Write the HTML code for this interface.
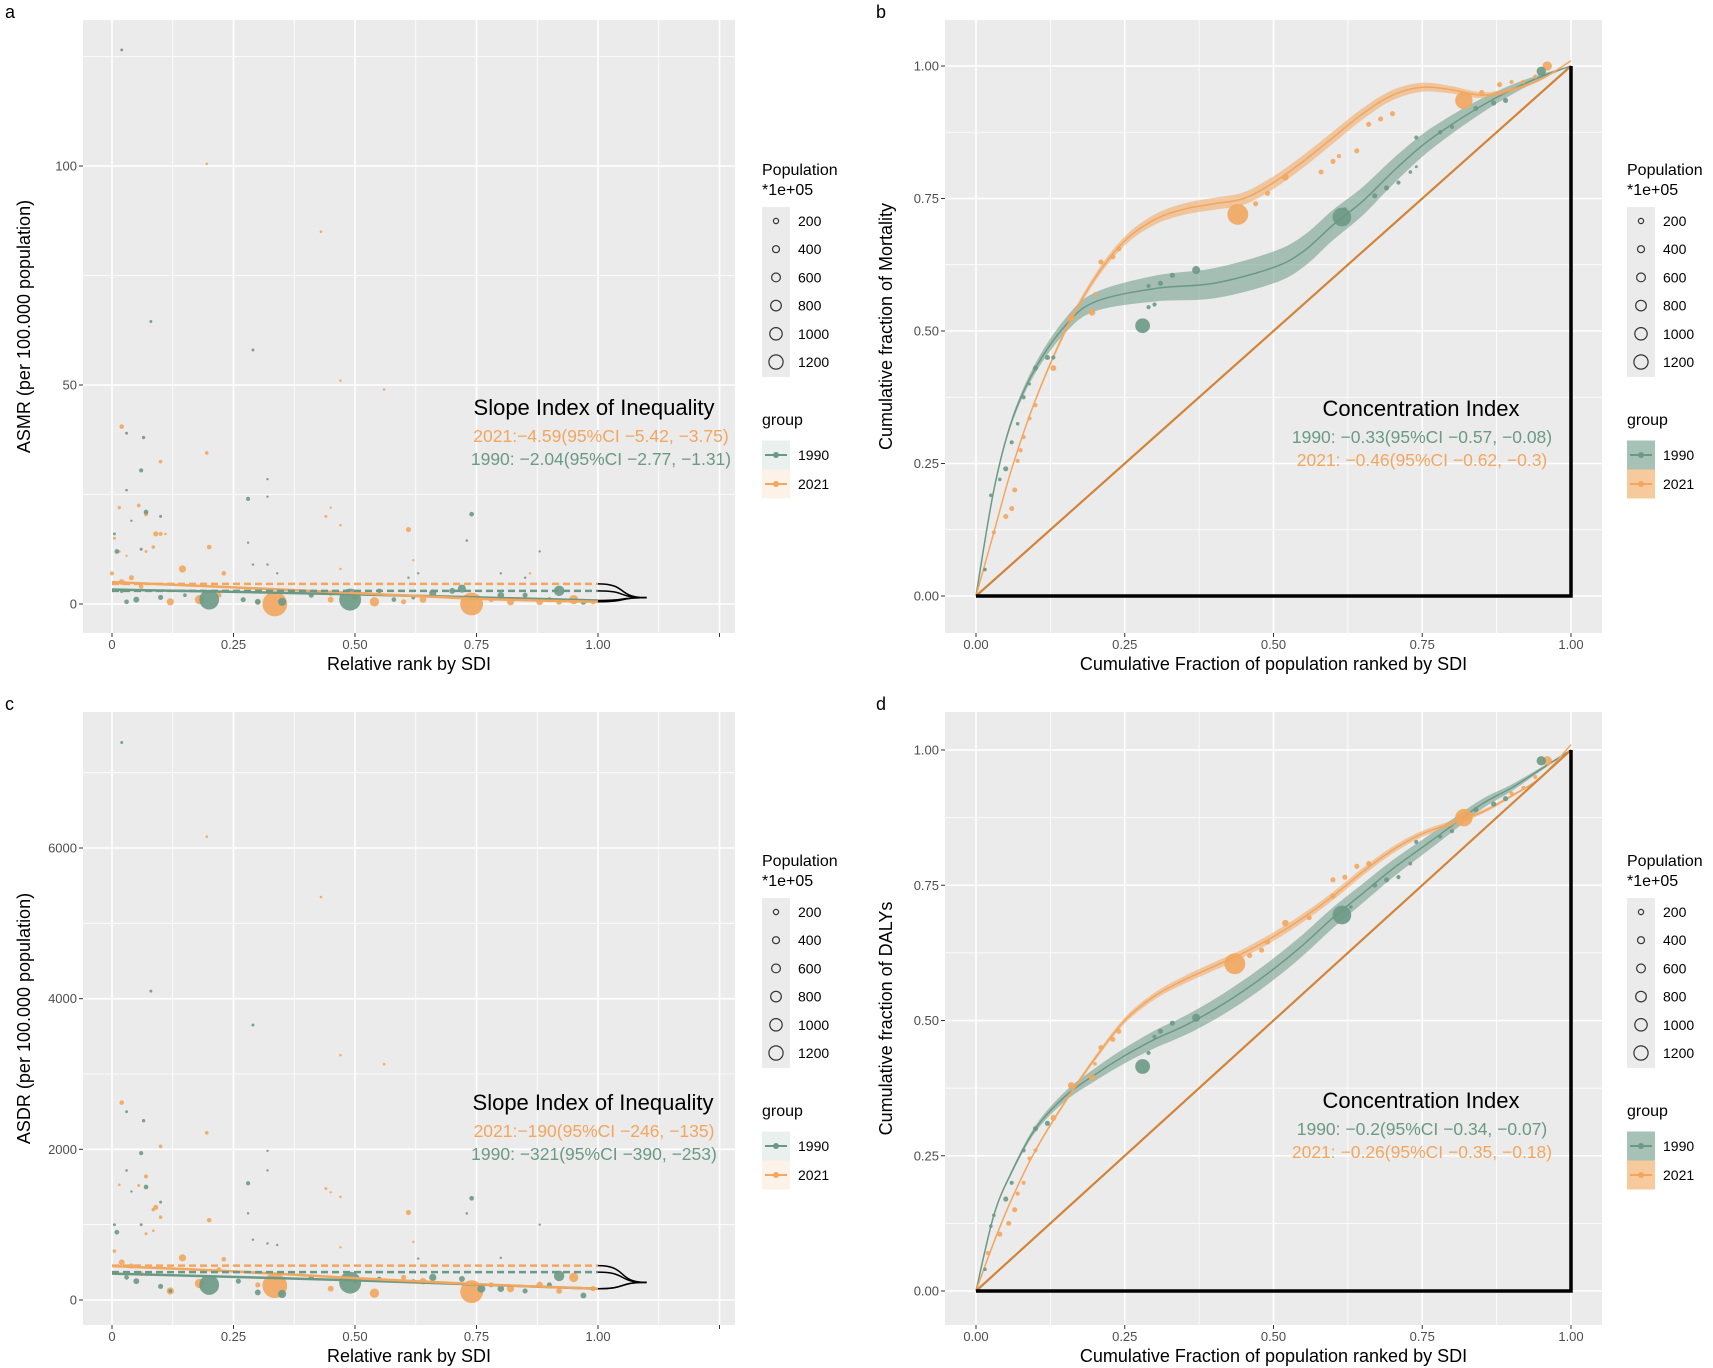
<!DOCTYPE html>
<html><head><meta charset="utf-8"><style>
body{margin:0;background:#fff}
svg{display:block;font-family:"Liberation Sans",Arial,sans-serif}
</style></head><body>
<svg id="fig" width="1713" height="1368" viewBox="0 0 1713 1368" xmlns="http://www.w3.org/2000/svg"></svg>
<script>
// ---------- Panel a data (ASMR) ----------
const a1990 = [[0.02,126.5,20],[0.08,64.5,20],[0.29,58,20],[0.03,39,20],[0.065,38,25],[0.06,30.5,40],[0.03,26,15],[0.32,28.5,10],[0.28,24,40],[0.32,24.5,10],[0.07,21,50],[0.1,20,20],[0.74,20.5,50],[0.005,16,20],[0.04,19,10],[0.01,12,50],[0.06,12.5,20],[0.28,14,10],[0.73,14.5,15],[0.88,12,8],[0.29,9,10],[0.32,9,10],[0.34,7,8],[0.63,7,8],[0.61,6,8],[0.8,7,10],[0.85,6,8],
[0.2,1,900],[0.49,1,1100],[0.92,3,250],[0.72,3.5,150],[0.05,1,80],[0.1,1.5,60],[0.03,0.5,50],[0.27,1,60],[0.3,0.5,80],[0.35,0.5,150],[0.58,1,50],[0.66,2.5,120],[0.7,3,80],[0.8,2,100],[0.85,2,60],[0.9,1,60],[0.97,0.5,80],[0.41,2,60],[0.45,2.5,60],[0.62,1.5,40],[0.02,3,40],[0.15,2,30],[0.55,3,50]];
const a2021 = [[0.195,100.5,15],[0.43,85,15],[0.47,51,15],[0.56,49,15],[0.02,40.5,50],[0.195,34.5,30],[0.1,32.5,30],[0.015,22,25],[0.055,22.5,30],[0.07,20.5,40],[0.44,20,20],[0.45,22,10],[0.47,18,15],[0.09,16,60],[0.1,16,40],[0.61,17,60],[0.085,13,30],[0.2,13,50],[0.005,15,20],[0.015,12,15],[0.11,16,15],[0.07,12,20],[0.03,11,10],[0.62,10,10],[0.145,8,120],[0.23,7,50],[0.47,8,8],[0.86,7,8],
[0.335,0,1400],[0.74,0,1200],[0.54,0.5,200],[0.18,1,200],[0.12,0.5,120],[0.0,7,40],[0.02,5,80],[0.04,6,60],[0.22,2,60],[0.45,1,80],[0.6,0.5,60],[0.64,1,100],[0.82,0.5,120],[0.88,0.5,100],[0.95,1,200],[0.99,0.5,60],[0.06,4,50],[0.3,0.5,60],[0.5,1.5,60],[0.78,1,60],[0.92,0.5,80]];
const aDash = [3.0, 4.6];
const aFit1990 = [[0,3.3],[0.5,2.2],[1,0.8]];
const aFit2021 = [[0,5.0],[0.25,3.8],[0.5,2.5],[0.75,1.2],[1,0.5]];
const aYTicks = [0,50,100];
// ---------- Panel c data (ASDR) ----------
const c1990 = [[0.02,7400,20],[0.08,4100,20],[0.29,3650,20],[0.03,2500,20],[0.065,2380,25],[0.06,1950,40],[0.32,1980,10],[0.03,1720,15],[0.32,1720,10],[0.28,1550,40],[0.07,1500,50],[0.04,1440,10],[0.1,1300,20],[0.74,1350,50],[0.73,1150,15],[0.28,1150,10],[0.005,1000,20],[0.01,900,50],[0.06,1000,20],[0.88,1000,8],[0.29,800,10],[0.32,750,10],[0.34,730,8],[0.8,560,10],[0.63,550,8],
[0.2,200,900],[0.49,230,1100],[0.92,320,250],[0.35,80,150],[0.3,100,80],[0.05,250,80],[0.1,180,60],[0.03,300,50],[0.66,300,120],[0.72,280,80],[0.76,150,150],[0.8,150,100],[0.85,120,60],[0.9,200,60],[0.97,60,80],[0.41,300,60],[0.62,250,40],[0.12,120,30],[0.55,280,50],[0.26,250,60]];
const c2021 = [[0.195,6150,15],[0.43,5350,15],[0.47,3250,15],[0.56,3130,15],[0.02,2620,50],[0.195,2220,30],[0.1,2040,30],[0.07,1640,40],[0.015,1530,15],[0.055,1520,20],[0.44,1480,20],[0.45,1430,10],[0.47,1370,15],[0.09,1230,60],[0.085,1200,30],[0.61,1160,60],[0.2,1060,50],[0.1,1100,30],[0.07,880,20],[0.085,920,15],[0.62,770,10],[0.145,560,120],[0.47,700,8],[0.005,650,30],[0.23,540,50],
[0.335,190,1400],[0.74,110,1200],[0.54,90,200],[0.18,220,200],[0.12,120,120],[0.02,500,80],[0.04,450,60],[0.22,400,60],[0.45,150,80],[0.6,300,60],[0.64,250,100],[0.82,150,120],[0.88,200,100],[0.95,300,200],[0.99,150,60],[0.3,200,60],[0.5,250,60],[0.78,200,60],[0.92,120,80],[0.06,350,50]];
const cDash = [370, 456];
const cFit1990 = [[0,350],[0.5,260],[1,150]];
const cFit2021 = [[0,450],[0.25,380],[0.5,290],[0.75,210],[1,150]];
const cYTicks = [0,2000,4000,6000];
// ---------- Panel b data (Mortality concentration) ----------
const bCurve1990 = [[0,0],[0.03,0.2],[0.06,0.33],[0.1,0.43],[0.15,0.51],[0.2,0.555],[0.3,0.58],[0.4,0.59],[0.5,0.62],[0.55,0.65],[0.6,0.7],[0.65,0.745],[0.7,0.8],[0.75,0.85],[0.8,0.89],[0.85,0.925],[0.9,0.955],[0.95,0.98],[1,1]];
const bCurve2021 = [[0,0],[0.03,0.12],[0.06,0.24],[0.1,0.37],[0.15,0.5],[0.2,0.6],[0.25,0.67],[0.3,0.71],[0.35,0.73],[0.4,0.74],[0.45,0.75],[0.5,0.78],[0.55,0.82],[0.6,0.865],[0.65,0.91],[0.7,0.945],[0.75,0.96],[0.8,0.955],[0.85,0.945],[0.9,0.955],[0.95,0.975],[1,1.01]];
const bPts1990 = [[0.28,0.51,500],[0.615,0.715,800],[0.37,0.615,150],[0.33,0.605,60],[0.31,0.59,60],[0.29,0.585,40],[0.3,0.55,40],[0.29,0.545,40],[0.95,0.99,200],[0.05,0.24,60],[0.04,0.22,30],[0.025,0.19,30],[0.06,0.29,40],[0.08,0.375,40],[0.1,0.43,60],[0.12,0.45,60],[0.13,0.45,40],[0.67,0.755,60],[0.69,0.77,60],[0.71,0.78,40],[0.73,0.8,30],[0.74,0.81,20],[0.74,0.865,40],[0.78,0.875,40],[0.8,0.885,40],[0.84,0.92,60],[0.87,0.93,60],[0.89,0.935,60],[0.62,0.73,30],[0.015,0.05,30],[0.07,0.325,30],[0.09,0.4,20]];
const bPts2021 = [[0.44,0.72,1000],[0.82,0.935,700],[0.96,1.0,200],[0.16,0.525,100],[0.195,0.535,100],[0.13,0.43,80],[0.21,0.63,60],[0.23,0.64,60],[0.24,0.655,60],[0.2,0.57,30],[0.1,0.36,40],[0.09,0.335,40],[0.08,0.3,40],[0.07,0.255,40],[0.075,0.275,40],[0.065,0.2,60],[0.06,0.165,60],[0.05,0.15,60],[0.03,0.12,40],[0.015,0.05,30],[0.47,0.74,60],[0.49,0.76,60],[0.52,0.79,100],[0.58,0.8,60],[0.6,0.82,60],[0.61,0.83,40],[0.64,0.84,60],[0.66,0.89,60],[0.68,0.9,60],[0.7,0.91,60],[0.88,0.965,60],[0.9,0.97,40],[0.92,0.97,40],[0.94,0.98,40],[0.85,0.95,60]];
// ---------- Panel d data (DALYs concentration) ----------
const dCurve1990 = [[0,0],[0.03,0.14],[0.06,0.22],[0.1,0.3],[0.15,0.36],[0.2,0.4],[0.25,0.435],[0.3,0.465],[0.35,0.49],[0.4,0.52],[0.45,0.555],[0.5,0.595],[0.55,0.64],[0.6,0.69],[0.65,0.735],[0.7,0.78],[0.75,0.82],[0.8,0.86],[0.85,0.9],[0.9,0.93],[0.95,0.965],[1,1]];
const dCurve2021 = [[0,0],[0.03,0.09],[0.06,0.17],[0.1,0.26],[0.15,0.35],[0.2,0.43],[0.25,0.5],[0.3,0.545],[0.35,0.575],[0.4,0.6],[0.45,0.625],[0.5,0.655],[0.55,0.69],[0.6,0.73],[0.65,0.775],[0.7,0.815],[0.75,0.845],[0.8,0.865],[0.85,0.885],[0.9,0.915],[0.95,0.95],[1,1.01]];
const dPts1990 = [[0.28,0.415,500],[0.615,0.695,800],[0.37,0.505,150],[0.33,0.495,60],[0.31,0.48,60],[0.3,0.47,40],[0.29,0.44,40],[0.95,0.98,200],[0.05,0.17,60],[0.03,0.14,30],[0.025,0.12,30],[0.06,0.2,40],[0.08,0.26,40],[0.1,0.3,60],[0.12,0.31,60],[0.67,0.75,60],[0.69,0.76,60],[0.71,0.765,40],[0.73,0.79,30],[0.74,0.83,40],[0.78,0.84,40],[0.8,0.85,40],[0.84,0.89,60],[0.87,0.9,60],[0.89,0.91,60],[0.63,0.71,30],[0.015,0.04,30]];
const dPts2021 = [[0.435,0.605,1000],[0.82,0.875,700],[0.96,0.98,200],[0.16,0.38,100],[0.195,0.395,100],[0.13,0.32,80],[0.21,0.45,60],[0.23,0.465,60],[0.24,0.48,60],[0.2,0.42,30],[0.1,0.26,40],[0.09,0.245,40],[0.08,0.2,40],[0.07,0.18,40],[0.065,0.15,60],[0.055,0.125,60],[0.04,0.105,60],[0.02,0.07,40],[0.46,0.62,60],[0.48,0.63,60],[0.49,0.645,60],[0.52,0.68,100],[0.56,0.69,60],[0.6,0.73,60],[0.6,0.76,60],[0.62,0.765,60],[0.64,0.785,60],[0.66,0.79,60],[0.9,0.92,40],[0.92,0.93,40],[0.94,0.95,40]];
const ciTicks = [0,0.25,0.5,0.75,1];
const ciTickLabels = ["0.00","0.25","0.50","0.75","1.00"];
const rankTickLabels = ["0","0.25","0.50","0.75","1.00"];
const popLegend = ["200","400","600","800","1000","1200"];

const G='#6b9985', O='#f2a65e', NS='http://www.w3.org/2000/svg';
const svg=document.getElementById('fig');
function mk(tag,attrs,parent){const e=document.createElementNS(NS,tag);for(const k in attrs)e.setAttribute(k,attrs[k]);(parent||svg).appendChild(e);return e;}
function txt(s,x,y,size,fill,anchor,parent){const t=mk('text',{x:x,y:y,'font-size':size,fill:fill,'text-anchor':anchor||'start'},parent);t.textContent=s;return t;}
function rad(p){return Math.max(1.2,Math.sqrt(p)*0.33);}
function smooth(pts){let d='M'+pts[0][0]+','+pts[0][1];for(let i=0;i<pts.length-1;i++){const p0=pts[Math.max(0,i-1)],p1=pts[i],p2=pts[i+1],p3=pts[Math.min(pts.length-1,i+2)];
 d+=' C'+(p1[0]+(p2[0]-p0[0])/6)+','+(p1[1]+(p2[1]-p0[1])/6)+' '+(p2[0]-(p3[0]-p1[0])/6)+','+(p2[1]-(p3[1]-p1[1])/6)+' '+p2[0]+','+p2[1];}return d;}

function panel(o){
 const g=mk('g',{});
 
 
 const bg=mk('rect',{x:o.bx0,y:o.by0,width:o.bx1-o.bx0,height:o.by1-o.by0,fill:'#ebebeb'},g);
 
 
 const X=v=>o.x0+(o.x1-o.x0)*v, Y=v=>o.y0+(o.y1-o.y0)*(v-o.v0)/(o.v1-o.v0);
 for(let v=-0.125;v<=1.4;v+=0.125){const px=X(v);if(px<o.bx0||px>o.bx1)continue;const major=Math.abs(v*4-Math.round(v*4))<1e-6;
  const l=mk('line',{x1:px,x2:px,y1:o.by0,y2:o.by1,stroke:'#fff','stroke-width':major?1.6:0.8},g);
  
  }
 const step=o.yt[1]-o.yt[0];
 for(let v=o.yt[0]-step;v<=o.v1+step*2;v+=step/2){const py=Y(v);if(py<o.by0||py>o.by1)continue;const major=Math.abs((v/step)-Math.round(v/step))<1e-6;
  const l=mk('line',{x1:o.bx0,x2:o.bx1,y1:py,y2:py,stroke:'#fff','stroke-width':major?1.6:0.8},g);
  
  }
 o.yt.forEach((v,i)=>{const py=Y(v);mk('line',{x1:o.bx0-4,x2:o.bx0,y1:py,y2:py,stroke:'#333','stroke-width':1},g);
  const t=txt(o.ytl[i],o.bx0-6,py+4.5,13,'#4d4d4d','end',g);
  
  });
 const xt=o.extraTick?[0,0.25,0.5,0.75,1,1.25]:[0,0.25,0.5,0.75,1];
 xt.forEach((v,i)=>{const px=X(v);mk('line',{x1:px,x2:px,y1:o.by1,y2:o.by1+4,stroke:'#333','stroke-width':1},g);
  if(i<5){const t=txt(o.xtl[i],px,o.by1+16,13,'#4d4d4d','middle',g);
  
  }});
 const xtt=txt(o.xTitle,(o.bx0+o.bx1)/2,o.by1+37,18,'#000','middle',g);
 
 
 const cy=(o.by0+o.by1)/2, cx=o.bx0-53;
 const ytt=txt(o.yTitle,cx,cy,18,'#000','middle',g);ytt.setAttribute('transform','rotate(-90 '+cx+' '+cy+')');
 
 
 const lt=txt(o.letter,o.lx,o.by0-2,18,'#000','start',g);
 
 
 return {g,X,Y};
}
function points(g,X,Y,arr,col,nm){arr.forEach(p=>{const c=mk('circle',{cx:X(p[0]),cy:Y(p[1]),r:rad(p[2]),fill:col,'fill-opacity':0.9},g);
 
 });}
function legend(x,top,shade,g){
 txt('Population',x,top,16,'#000','start',g);txt('*1e+05',x,top+20,16,'#000','start',g);
 const box=mk('rect',{x:x,y:top+32,width:28,height:170,fill:'#ebebeb'},g);
 
 
 popLegend.forEach((s,i)=>{const yy=top+46+i*28.2;const c=mk('circle',{cx:x+14,cy:yy,r:2.6+i*0.9,fill:'none',stroke:'#333','stroke-width':1.2},g);
  
  
  const t=txt(s,x+36,yy+5,14,'#000','start',g);
  
  });
 txt('group',x,top+250,16,'#000','start',g);
 [[G,'1990'],[O,'2021']].forEach((k,i)=>{const yy=top+280+i*29;
  const r=mk('rect',{x:x,y:yy-14.5,width:28,height:29,fill:k[0],'fill-opacity':shade},g);
  
  
  mk('line',{x1:x+3,x2:x+25,y1:yy,y2:yy,stroke:k[0],'stroke-width':2},g);
  mk('circle',{cx:x+14,cy:yy,r:3,fill:k[0]},g);
  const t=txt(k[1],x+36,yy+5,14,'#000','start',g);
  
  });
}
function siPanel(o,p1990,p2021,dash,f90,f21){
 const {g,X,Y}=panel(o);
 points(g,X,Y,p2021,O,'point-2021');points(g,X,Y,p1990,G,'point-1990');
 [[f90,G,'fit-line-1990'],[f21,O,'fit-line-2021']].forEach(f=>{const l=mk('path',{d:smooth(f[0].map(p=>[X(p[0]),Y(p[1])])),fill:'none',stroke:f[1],'stroke-width':2.5},g);
  
  });
 [[dash[0],G,'mean-line-1990'],[dash[1],O,'mean-line-2021']].forEach(d=>{const l=mk('line',{x1:X(0),x2:X(1),y1:Y(d[0]),y2:Y(d[0]),stroke:d[1],'stroke-width':2.5,'stroke-dasharray':'7,4'},g);
  
  });
 const tipY=(Y(dash[0])+Y(f90[f90.length-1][1]))/2+2;
 [dash[1],dash[0],f21[f21.length-1][1],f90[f90.length-1][1]].forEach(v=>{const y=Y(v),xa=X(1),xb=X(1.05),xc=X(1.1);
  const p=mk('path',{d:'M'+xa+','+y+' C'+(xb+6)+','+y+' '+(xb-6)+','+tipY+' '+xc+','+tipY,fill:'none',stroke:'#000','stroke-width':1.5},g);
  
  });
 return g;
}
function ciPanel(o,c90,c21,p90,p21,w90,w21){
 const {g,X,Y}=panel(o);
 [[c90,G,w90,'1990'],[c21,O,w21,'2021']].forEach(c=>{
  const up=c[0].map(p=>[X(p[0]),Y(p[1]+c[2]*Math.sin(Math.PI*p[0]))]);
  const lo=c[0].map(p=>[X(p[0]),Y(p[1]-c[2]*Math.sin(Math.PI*p[0]))]).reverse();
  const band=mk('path',{d:smooth(up)+' L'+lo[0][0]+','+lo[0][1]+' '+smooth(lo).slice(1)+' Z',fill:c[1],'fill-opacity':0.55},g);
  
  
  const l=mk('path',{d:smooth(c[0].map(p=>[X(p[0]),Y(p[1])])),fill:'none',stroke:c[1],'stroke-width':1.5},g);
  
  });
 points(g,X,Y,p21,O,'point-2021');points(g,X,Y,p90,G,'point-1990');
 const dl=mk('line',{x1:X(0),y1:Y(0),x2:X(1),y2:Y(1),stroke:'#d2843a','stroke-width':2.2},g);
 
 
 const bl=mk('polyline',{points:X(0)+','+Y(0)+' '+X(1)+','+Y(0)+' '+X(1)+','+Y(1),fill:'none',stroke:'#000','stroke-width':3.5},g);
 
 
 return g;
}
function annot(g,title,l1,c1,l2,c2,cx,lcx,ty){
 const t=txt(title,cx,ty,22,'#000','middle',g);
 
 
 const a=txt(l1,lcx,ty+27,17.5,c1,'middle',g);
 
 
 const b=txt(l2,lcx,ty+50,17.5,c2,'middle',g);
 
 
}
const ga=siPanel({name:'panel-a',letter:'a',lx:5,bx0:83,bx1:735,by0:20,by1:633,x0:112,x1:598,y0:604,y1:385,v0:0,v1:50,yt:aYTicks,ytl:aYTicks.map(String),xtl:rankTickLabels,extraTick:true,xTitle:'Relative rank by SDI',yTitle:'ASMR (per 100.000 population)'},a1990,a2021,aDash,aFit1990,aFit2021);
annot(ga,'Slope Index of Inequality','2021:\u22124.59(95%CI \u22125.42, \u22123.75)',O,'1990: \u22122.04(95%CI \u22122.77, \u22121.31)',G,594,601,415);
legend(762,175,0.15,ga);
const gc=siPanel({name:'panel-c',letter:'c',lx:5,bx0:83,bx1:735,by0:712,by1:1325,x0:112,x1:598,y0:1300,y1:848,v0:0,v1:6000,yt:cYTicks,ytl:cYTicks.map(String),xtl:rankTickLabels,extraTick:true,xTitle:'Relative rank by SDI',yTitle:'ASDR (per 100.000 population)'},c1990,c2021,cDash,cFit1990,cFit2021);
annot(gc,'Slope Index of Inequality','2021:\u2212190(95%CI \u2212246, \u2212135)',O,'1990: \u2212321(95%CI \u2212390, \u2212253)',G,593,594,1110);
legend(762,866,0.15,gc);
const gb=ciPanel({name:'panel-b',letter:'b',lx:876,bx0:945,bx1:1602,by0:20,by1:633,x0:976,x1:1571,y0:596,y1:66,v0:0,v1:1,yt:ciTicks,ytl:ciTickLabels,xtl:ciTickLabels,xTitle:'Cumulative Fraction of population ranked by SDI',yTitle:'Cumulative fraction of Mortality'},bCurve1990,bCurve2021,bPts1990,bPts2021,0.03,0.012);
annot(gb,'Concentration Index','1990: \u22120.33(95%CI \u22120.57, \u22120.08)',G,'2021: \u22120.46(95%CI \u22120.62, \u22120.3)',O,1421,1422,416);
legend(1627,175,0.6,gb);
const gd=ciPanel({name:'panel-d',letter:'d',lx:876,bx0:945,bx1:1602,by0:712,by1:1325,x0:976,x1:1571,y0:1291,y1:750,v0:0,v1:1,yt:ciTicks,ytl:ciTickLabels,xtl:ciTickLabels,xTitle:'Cumulative Fraction of population ranked by SDI',yTitle:'Cumulative fraction of DALYs'},dCurve1990,dCurve2021,dPts1990,dPts2021,0.02,0.008);
annot(gd,'Concentration Index','1990: \u22120.2(95%CI \u22120.34, \u22120.07)',G,'2021: \u22120.26(95%CI \u22120.35, \u22120.18)',O,1421,1422,1108);
legend(1627,866,0.6,gd);
</script>
</body></html>
